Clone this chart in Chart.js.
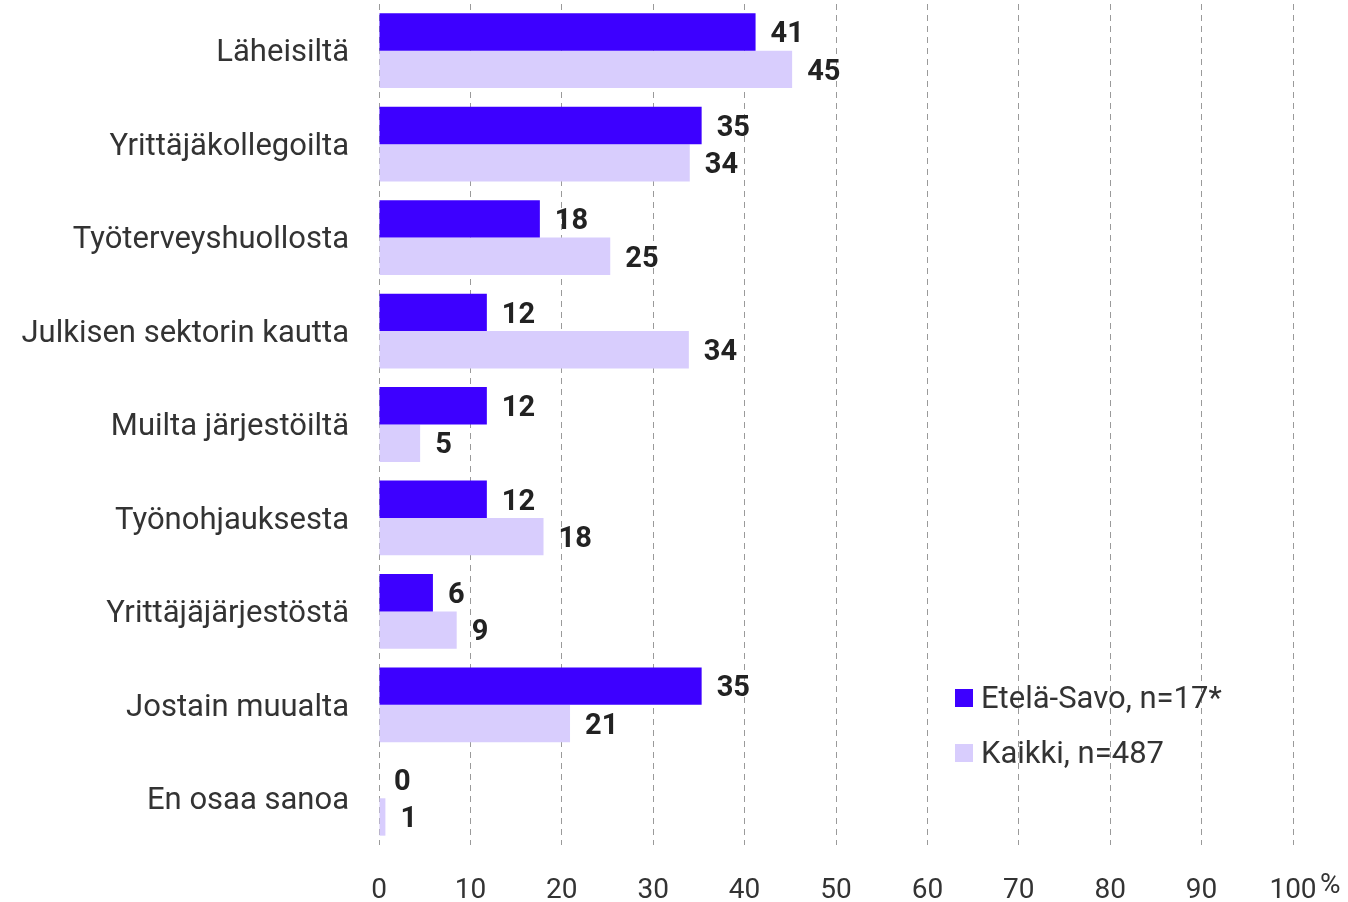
<!DOCTYPE html>
<html><head><meta charset="utf-8">
<script src="https://cdn.jsdelivr.net/npm/chart.js@4"></script>
<style>html,body{margin:0;padding:0;background:#fff}#wrap{width:1348px;height:902px;position:relative}</style>
</head><body><div id="wrap"><canvas id="c" width="1348" height="902"></canvas></div>
<script>
const categories = ["Läheisiltä","Yrittäjäkollegoilta","Työterveyshuollosta","Julkisen sektorin kautta","Muilta järjestöiltä","Työnohjauksesta","Yrittäjäjärjestöstä","Jostain muualta","En osaa sanoa"];
const seriesNames = ["Etelä-Savo, n=17*","Kaikki, n=487"];
const etelaSavo = [41.2,35.3,17.6,11.8,11.8,11.8,5.9,35.3,0];
const kaikki = [45.2,34.0,25.3,33.9,4.5,18.0,8.5,20.9,0.7];
const xTicks = [0,10,20,30,40,50,60,70,80,90,100];
const colors = ["#3d00ff","#d8cdfd"];
const FONT = "Roboto";

const valueLabels = {
  id:'valueLabels',
  afterDatasetsDraw(chart){
    const ctx = chart.ctx;
    ctx.save();
    ctx.font = "bold 29px " + FONT;
    ctx.fillStyle = "#222";
    ctx.textBaseline = "middle";
    ctx.textAlign = "left";
    chart.data.datasets.forEach((ds,i)=>{
      const meta = chart.getDatasetMeta(i);
      meta.data.forEach((bar,j)=>{
        ctx.fillText(String(Math.round(ds.data[j])), bar.x + 15, bar.y + 3);
      });
    });
    ctx.restore();
  }
};
const extras = {
  id:'extras',
  afterDraw(chart){
    const ctx = chart.ctx;
    ctx.save();
    ctx.font = "28px " + FONT;
    ctx.fillStyle = "#333";
    ctx.textBaseline = "middle";
    ctx.textAlign = "left";
    const xs = chart.scales.x;
    ctx.fillText("%", xs.getPixelForValue(100) + 27, 886);
    const lx = 955, ly = [698, 753];
    ctx.font = "31px " + FONT;
    seriesNames.forEach((n,i)=>{
      ctx.fillStyle = colors[i];
      ctx.fillRect(lx, ly[i]-9, 18, 18);
      ctx.fillStyle = "#333";
      ctx.fillText(n, lx + 26, ly[i] + 2);
    });
    ctx.restore();
  }
};

new Chart(document.getElementById('c'), {
  type:'bar',
  data:{
    labels: categories,
    datasets:[
      {label:seriesNames[0], data:etelaSavo, backgroundColor:colors[0], barPercentage:1.0, categoryPercentage:0.8},
      {label:seriesNames[1], data:kaikki, backgroundColor:colors[1], barPercentage:1.0, categoryPercentage:0.8}
    ]
  },
  options:{
    indexAxis:'y',
    responsive:false,
    animation:false,
    devicePixelRatio:1,
    layout:{padding:{left:0,right:55,top:4,bottom:0}},
    plugins:{legend:{display:false},tooltip:{enabled:false}},
    scales:{
      x:{
        min:0,max:100,
        afterBuildTicks(s){ s.ticks = xTicks.map(v=>({value:v})); },
        afterFit(s){ s.height = 57; s.paddingLeft = 0; s.paddingRight = 0; },
        grid:{color:"#9a9a9a",lineWidth:1,drawTicks:false},
        border:{display:false,dash:[6,5]},
        ticks:{font:{family:FONT,size:28},color:"#333",padding:29,maxRotation:0,autoSkip:false}
      },
      y:{
        afterFit(s){ s.width = 379; s.paddingTop = 0; s.paddingBottom = 0; },
        grid:{display:false},
        border:{display:false},
        ticks:{font:{family:FONT,size:31},color:"#333",padding:22,labelOffset:3}
      }
    }
  },
  plugins:[valueLabels, extras]
});
</script></body></html>
